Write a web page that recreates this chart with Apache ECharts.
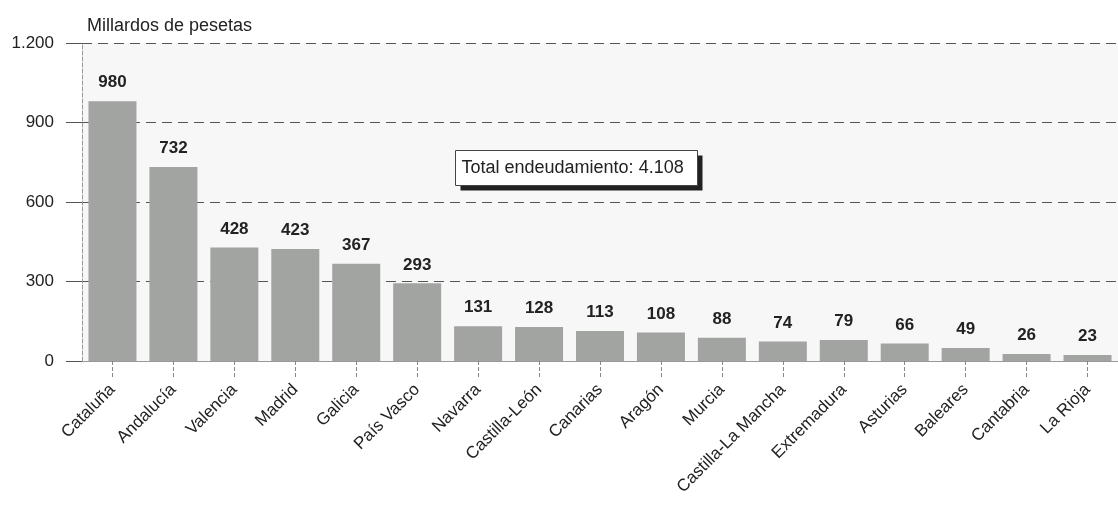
<!DOCTYPE html>
<html>
<head>
<meta charset="utf-8">
<style>
  html, body { margin: 0; padding: 0; background: #fff; }
  #chart { width: 1118px; height: 506px; }
</style>
<script src="https://cdn.jsdelivr.net/npm/echarts@6/dist/echarts.min.js"></script>
</head>
<body>
<div id="chart"></div>
<script>
// endeudamiento por comunidad autónoma (millardos de pesetas)
const regions = ['Cataluña', 'Andalucía', 'Valencia', 'Madrid', 'Galicia', 'País Vasco', 'Navarra',
  'Castilla-León', 'Canarias', 'Aragón', 'Murcia', 'Castilla-La Mancha', 'Extremadura',
  'Asturias', 'Baleares', 'Cantabria', 'La Rioja']
const debt = [980, 732, 428, 423, 367, 293, 131, 128, 113, 108, 88, 74, 79, 66, 49, 26, 23]
const yTicks = [0, 300, 600, 900, 1200]
const totalLabel = 'Total endeudamiento: 4.108'

const font = '"Liberation Sans", Arial, sans-serif'
const fmtEs = v => String(v).replace(/\B(?=(\d{3})+(?!\d))/g, '.')

const chart = echarts.init(document.getElementById('chart'))

chart.setOption({
  animation: false,
  textStyle: { fontFamily: font },
  title: {
    text: 'Millardos de pesetas',
    left: 82,
    top: 12,
    textStyle: { fontSize: 18, fontWeight: 'normal', color: '#222', fontFamily: font }
  },
  grid: {
    left: 82,
    top: 43,
    right: 0,
    height: 318,
    show: true,
    backgroundColor: '#f7f7f7',
    borderWidth: 0
  },
  xAxis: {
    type: 'category',
    data: regions,
    axisLine: { show: true, lineStyle: { color: '#9a9a9a', width: 1 } },
    axisTick: { show: true, alignWithLabel: true, length: 16, lineStyle: { color: '#888', type: 'dashed' } },
    axisLabel: { rotate: 45, margin: 26, fontSize: 17, color: '#222', interval: 0, fontFamily: font }
  },
  yAxis: {
    type: 'value',
    min: yTicks[0],
    max: yTicks[yTicks.length - 1],
    interval: 300,
    axisLine: { show: true, lineStyle: { color: '#999', type: 'dashed' } },
    axisTick: { show: true, length: 16, lineStyle: { color: '#555' } },
    axisLabel: { margin: 28, fontSize: 17, color: '#222', fontFamily: font, formatter: fmtEs },
    splitLine: { show: true, lineStyle: { color: '#555', type: [10, 6], width: 1 } }
  },
  series: [{
    type: 'bar',
    data: debt,
    barWidth: 48,
    itemStyle: { color: '#a2a4a1' },
    label: {
      show: true,
      position: 'top',
      distance: 10,
      fontSize: 17,
      fontWeight: 'bold',
      color: '#222',
      fontFamily: font
    }
  }],
  graphic: [{
    type: 'group',
    left: 455,
    top: 150,
    children: [{
      type: 'rect',
      shape: { x: 5, y: 5, width: 242, height: 35 },
      style: { fill: '#222' }
    }, {
      type: 'rect',
      shape: { x: 0, y: 0, width: 242, height: 35 },
      style: { fill: '#fff', stroke: '#444', lineWidth: 1 }
    }, {
      type: 'text',
      x: 6,
      y: 9,
      style: { text: totalLabel, fontSize: 18, fill: '#222', fontFamily: font }
    }]
  }]
})
</script>
</body>
</html>
